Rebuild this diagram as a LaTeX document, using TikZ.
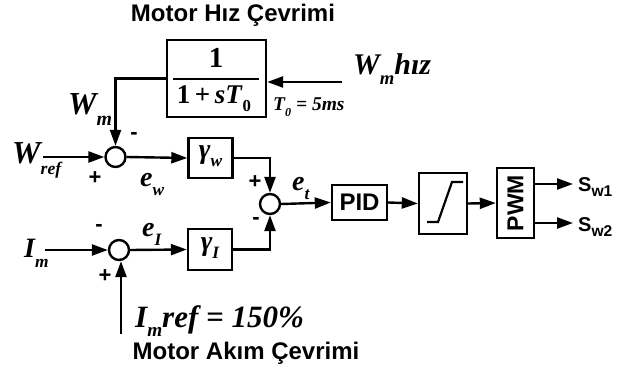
\documentclass[tikz,border=0pt]{standalone}
\usepackage{fontspec}
\usepackage{graphicx}
\setmainfont{Liberation Serif}
\newfontfamily\arial{Liberation Sans}
\usetikzlibrary{arrows.meta}
\newcommand\sbs[2][0.3em]{\raisebox{-#1}{\scalebox{0.62}{#2}}}
\newcommand\ssb[1]{\raisebox{-0.25em}{\scalebox{0.78}{#1}}}
\begin{document}
\begin{tikzpicture}[x=1pt,y=-1pt, line width=2.4pt,
  blk/.style={draw, rectangle, line width=2.4pt, inner sep=0pt},
  sumc/.style={draw, circle, minimum size=20pt, inner sep=0pt, line width=2.4pt},
  arr/.style={-{Triangle[length=16pt,width=11pt]}},
  ttl/.style={font=\arial\bfseries\fontsize{24}{24}\selectfont, inner sep=0pt},
  mth/.style={font=\bfseries\itshape\fontsize{32}{32}\selectfont, inner sep=0pt},
  mths/.style={font=\bfseries\itshape\fontsize{28}{28}\selectfont, inner sep=0pt},
  sgn/.style={font=\arial\bfseries\fontsize{22}{22}\selectfont, inner sep=0pt},
  sans/.style={font=\arial\bfseries\fontsize{24}{24}\selectfont, inner sep=0pt}
]
\fill[white] (0,0) rectangle (629,371);
\useasboundingbox (0,0) rectangle (629,371);

% titles
\node[ttl] (t1) at (233,15) {Motor Hız Çevrimi};
\node[ttl] (t2) at (246,353) {Motor Akım Çevrimi};

% transfer function block
\node[blk, minimum width=99pt, minimum height=77pt] (tf) at (216.5,78.5) {};
\node[inner sep=0pt, font=\bfseries\fontsize{29}{29}\selectfont] (num) at (216,58) {1};
\node[inner sep=0pt, font=\bfseries\fontsize{27}{27}\selectfont] (den) at (214,99) {1\,+\,\textit{sT}\sbs{0}};
\draw[line width=2pt] ([xshift=7pt,yshift=-1pt]tf.west) -- ([xshift=-8pt,yshift=-1pt]tf.east);

\coordinate (hin) at (342,82);
\draw[arr] (hin) -- (hin -| tf.east);
\node[mth, font=\bfseries\itshape\fontsize{30}{30}\selectfont, anchor=base west] (wmh) at (352,75) {W\sbs[0.33em]{m}hız};
\node[font=\bfseries\itshape\fontsize{19.5}{19.5}\selectfont, anchor=base west, inner sep=0pt] (t0) at (272,111) {T\sbs{0} = 5ms};

% speed loop summing junction
\node[sumc] (c1) at (115.5,157) {};
\draw[arr] (tf.west) -| (c1.north);
\node[mth, anchor=base west] (wm) at (67,115) {W\sbs[0.33em]{m}};
\node[sgn] (m1) at (134,136) {-};
\coordinate (wrefin) at (43,157);
\node[mth, anchor=base west] (wref) at (11,164) {W\raisebox{-0.34em}{\scalebox{0.55}{ref}}};
\draw[arr] (wrefin) -- (c1.west);
\node[sgn] (p1) at (95,178) {+};

\node[blk, minimum width=44pt, minimum height=40pt] (gw) at (210.5,158) {};
\node[mths] (gwl) at (210.5,156) {γ\sbs{w}};
\draw[arr] (c1.east) -- (gw.west);
\node[mths, anchor=base west] (ew) at (139,187) {e\sbs{w}};

% current loop summing junction
\node[sumc] (c2) at (119,250) {};
\coordinate (imin) at (45,250);
\node[mths, anchor=base west] (im) at (23,258) {I\sbs[0.33em]{m}};
\draw[arr] (imin) -- (c2.west);
\node[sgn] (m2) at (99,228) {-};
\node[sgn] (p2) at (105,276) {+};
\coordinate (iref) at (121,334);
\draw[arr] (iref) -- (iref |- c2.south);
\node[font=\bfseries\itshape\fontsize{31}{31}\selectfont, inner sep=0pt, anchor=base west] (irefl) at (134,327) {I\sbs{m}ref = 150\%};

\node[blk, minimum width=44pt, minimum height=41pt] (gi) at (210,249.5) {};
\node[mths] (gil) at (210,248) {γ\sbs{I}};
\draw[arr] (c2.east) -- (gi.west);
\node[mths, anchor=base west] (ei) at (141,237) {e\sbs{I}};

% error junction
\node[sumc] (c3) at (270,204) {};
\draw[arr] (gw.east) -| (c3.north);
\draw[arr] (gi.east) -| (c3.south);
\node[sgn] (p3) at (255,182) {+};
\node[sgn] (m3) at (256,221) {-};
\node[mths, anchor=base west] (et) at (291,191) {e\sbs{t}};

% PID, limiter, PWM
\node[blk, minimum width=55pt, minimum height=35pt, sans] (pid) at (359.5,202.5) {PID};
\draw[arr] (c3.east) -- (pid.west);
\node[blk, minimum width=48pt, minimum height=61pt] (sat) at (443,203.5) {};
\draw[line width=2.2pt] ([shift={(-16,18.5)}]sat.center) -- ++(11,0) -- ++(14,-40) -- ++(11,0);
\draw[arr] (pid.east) -- (sat.west);
\node[blk, minimum width=37pt, minimum height=70pt] (pwm) at (515.5,203) {};
\node[sans, rotate=90, font=\arial\bfseries\fontsize{23}{23}\selectfont] (pwml) at (pwm.center) {PWM};
\draw[arr] (sat.east) -- (pwm.west);

\coordinate (o1) at (573,184);
\coordinate (o2) at (573,223);
\draw[arr] (o1 -| pwm.east) -- (o1);
\draw[arr] (o2 -| pwm.east) -- (o2);
\node[font=\arial\bfseries\fontsize{20}{20}\selectfont, inner sep=0pt, anchor=base west] (s1) at (577,192) {S\ssb{w1}};
\node[font=\arial\bfseries\fontsize{20}{20}\selectfont, inner sep=0pt, anchor=base west] (s2) at (577,232) {S\ssb{w2}};
\end{tikzpicture}
\end{document}
